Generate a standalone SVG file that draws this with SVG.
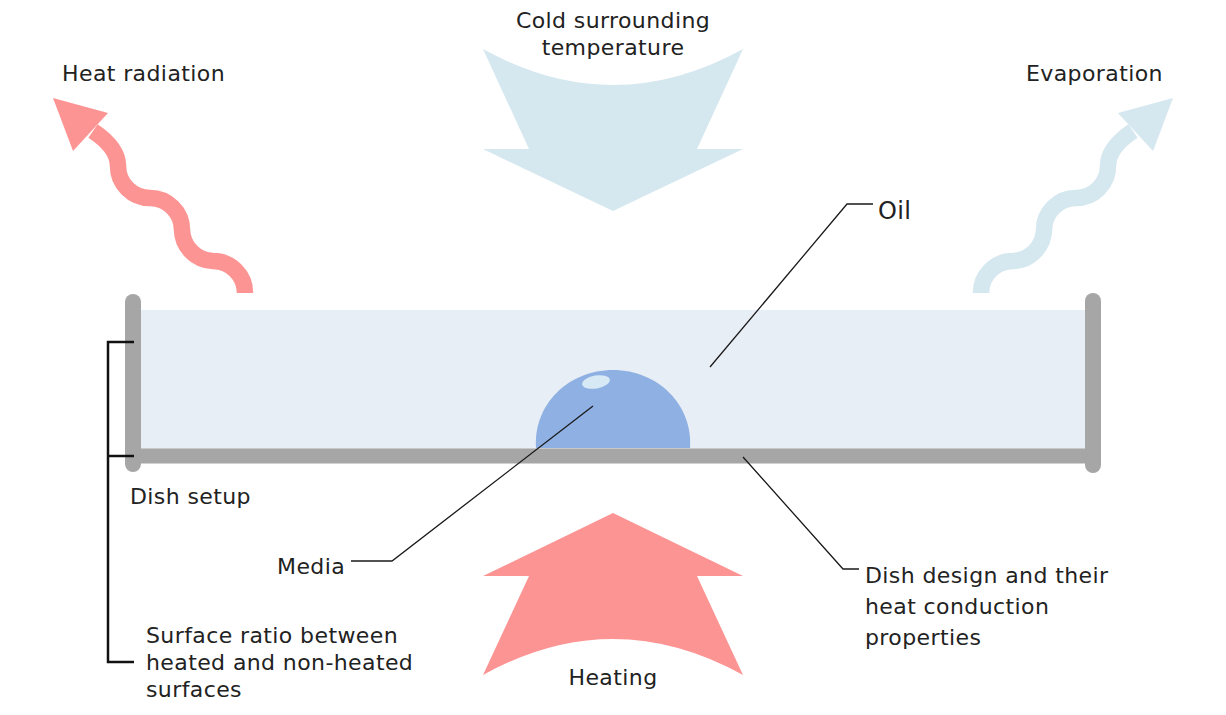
<svg xmlns="http://www.w3.org/2000/svg" width="1226" height="715" viewBox="0 0 1226 715">
  <style>
    .t { font-family: "DejaVu Sans", "Liberation Sans", sans-serif; font-size: 22px; letter-spacing: 0.4px; fill: #222222; }
    .mid { text-anchor: middle; }
    .lead { fill: none; stroke: #1a1a1a; stroke-width: 1.3; }
    .brk { fill: none; stroke: #111111; stroke-width: 2.5; }
    .wall { stroke: #a6a6a6; stroke-width: 16; stroke-linecap: round; fill: none; }
    .wave { fill: none; stroke-width: 16.5; stroke-linecap: butt; }
  </style>
  <rect width="1226" height="715" fill="#ffffff"/>

  <g id="cold-arrow">
    <path d="M483,49 Q613,121 743,49 L697,149 L743,149 L613,211 L483,149 L529,149 Z" fill="#d5e7ef"/>
    <text class="t mid" x="613" y="28">Cold surrounding</text>
    <text class="t mid" x="613" y="55">temperature</text>
  </g>

  <g id="heating-arrow">
    <path d="M613,513 L743,576 L697,576 L743,675 Q613,603 483,675 L529,576 L483,576 Z" fill="#fd9494"/>
    <text class="t mid" x="613" y="685">Heating</text>
  </g>

  <g id="heat-radiation">
    <path class="wave" stroke="#fd9494" d="M245,293 A32,32 0 0 0 213,261 A32,32 0 0 1 182,230 A32,32 0 0 0 150,198 A32,32 0 0 1 118,166 C118,152 108,141 93,131"/>
    <polygon points="53,98 108,113 73,151" fill="#fd9494"/>
    <text class="t" x="62" y="81">Heat radiation</text>
  </g>

  <g id="evaporation">
    <g transform="matrix(-1,0,0,1,1226,0)">
      <path class="wave" stroke="#d5e7ef" d="M245,293 A32,32 0 0 0 213,261 A32,32 0 0 1 182,230 A32,32 0 0 0 150,198 A32,32 0 0 1 118,166 C118,152 108,141 93,131"/>
      <polygon points="53,98 108,113 73,151" fill="#d5e7ef"/>
    </g>
    <text class="t" x="1026" y="81">Evaporation</text>
  </g>

  <g id="dish">
    <rect x="141" y="310" width="944" height="139" fill="#e8eef5"/>
    <line x1="133" y1="456" x2="1093" y2="456" stroke="#a6a6a6" stroke-width="15"/>
    <line class="wall" x1="133" y1="302" x2="133" y2="464"/>
    <line class="wall" x1="1093" y1="301" x2="1093" y2="465"/>
    <text class="t" x="130" y="504">Dish setup</text>
  </g>

  <g id="media">
    <path d="M536,448 C533,405 568,370 613,370 C658,370 693,405 690,448 Z" fill="#8eb0e3"/>
    <ellipse cx="596" cy="382" rx="14" ry="6.5" transform="rotate(-10 596 382)" fill="#d7e9f5"/>
    <text class="t" x="277" y="574">Media</text>
  </g>

  <g id="oil">
    <text class="t" x="878" y="219" style="font-size:24px">Oil</text>
  </g>

  <g id="dish-design">
    <text class="t" x="865" y="583">Dish design and their</text>
    <text class="t" x="865" y="614">heat conduction</text>
    <text class="t" x="865" y="645">properties</text>
  </g>

  <g id="surface-ratio">
    <text class="t" x="146" y="643">Surface ratio between</text>
    <text class="t" x="146" y="670">heated and non-heated</text>
    <text class="t" x="146" y="697">surfaces</text>
  </g>

  <g id="connectors">
    <polyline class="lead" points="710,367 847,204 873,204"/>
    <polyline class="lead" points="593,406 392,561 351,561"/>
    <polyline class="lead" points="743,457 843,569 859,569"/>
    <polyline class="brk" points="134,342 108,342 108,662 134,662"/>
    <line class="brk" x1="108" y1="456" x2="134" y2="456"/>
  </g>
</svg>
